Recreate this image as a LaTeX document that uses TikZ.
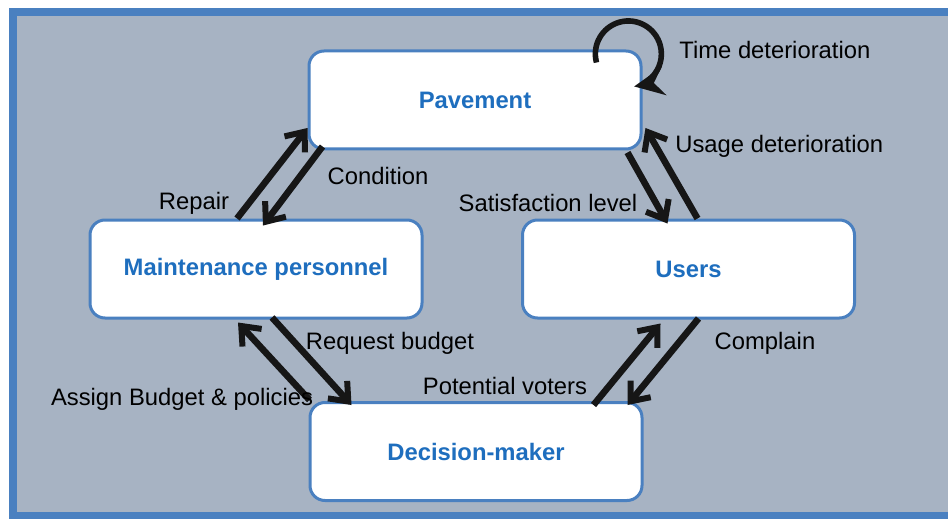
\documentclass[tikz,border=0pt]{standalone}
\usepackage{fontspec}
\setmainfont{Liberation Sans}
\usetikzlibrary{arrows.meta,calc}

\definecolor{frameblue}{RGB}{74,128,192}
\definecolor{panelgray}{RGB}{167,179,195}
\definecolor{titleblue}{RGB}{30,110,190}
\definecolor{inkblack}{RGB}{22,22,22}

\tikzset{
  actor/.style={rectangle, rounded corners=7.5pt, draw=frameblue, line width=1.5pt,
    fill=white, minimum width=166pt, minimum height=49pt, text=titleblue,
    font=\fontsize{11.9}{14}\selectfont\bfseries},
  flow/.style={draw=inkblack, line width=3.3pt,
    -{Straight Barb[length=8pt,width=13pt,line width=3pt]}},
  selfflow/.style={draw=inkblack, line width=2.8pt,
    -{Stealth[length=15pt,width=14pt,inset=5pt]}},
  tag/.style={font=\fontsize{11.9}{14}\selectfont, text=black, inner sep=0pt}
}

\begin{document}
\begin{tikzpicture}[x=0.5pt,y=-0.5pt]

  % page and panel
  \fill[white] (0,0) rectangle (948,519);
  \clip (0,0) rectangle (948,519);
  \draw[draw=frameblue, fill=panelgray, line width=4pt] (13,12.5) rectangle (975,515.5);

  \begin{scope}[every node/.style={actor}]
    \node (pav) at (475,100)   {Pavement};
    \node (mp)  at (256,269)   {Maintenance personnel};
    \node (usr) at (688.5,269) {Users};
    \node (dm)  at (476,451.5) {Decision-maker};
  \end{scope}

  % arrows between the actors
  \draw[flow] ($(mp.north)+(-19,0)$) -- ($(pav.west)+(0,28)$);
  \draw[flow] ($(pav.south west)+(15,-4)$) -- ($(mp.north)+(7,7)$);
  \draw[flow] ($(pav.south east)+(-15,2)$) -- ($(usr.north)+(-21,5)$);
  \draw[flow] ($(usr.north)+(9,0)$) -- ($(pav.east)+(3,28)$);
  \draw[flow] ($(mp.south)+(16,-2)$) -- ($(dm.north west)+(43,4)$);
  \draw[flow] ($(dm.north west)+(1,-1)$) -- ($(mp.south)+(-18,3)$);
  \draw[flow] ($(dm.north east)+(-50,4)$) -- ($(usr.south)+(-28,4)$);
  \draw[flow] ($(usr.south)+(10,-1)$) -- ($(dm.north east)+(-16,4)$);
  \draw[selfflow] ($(pav.north east)+(-46,13)$) arc[start angle=165, end angle=440, radius=33];

  % labels
  \begin{scope}[every node/.style={tag}]
    \node[anchor=west] (ltime)  at (679,50)  {Time deterioration};
    \node[anchor=west] (lusage) at (675,146) {Usage deterioration};
    \node (lcond)  at (378,176) {Condition};
    \node (lrep)   at (194,203) {Repair};
    \node (lsat)   at (548,203) {Satisfaction level};
    \node (lreq)   at (390,343) {Request budget};
    \node (lass)   at (182,399) {Assign Budget \& policies};
    \node (lvot)   at (505,386) {Potential voters};
    \node (lcomp)  at (765,343) {Complain};
  \end{scope}

\end{tikzpicture}
\end{document}
